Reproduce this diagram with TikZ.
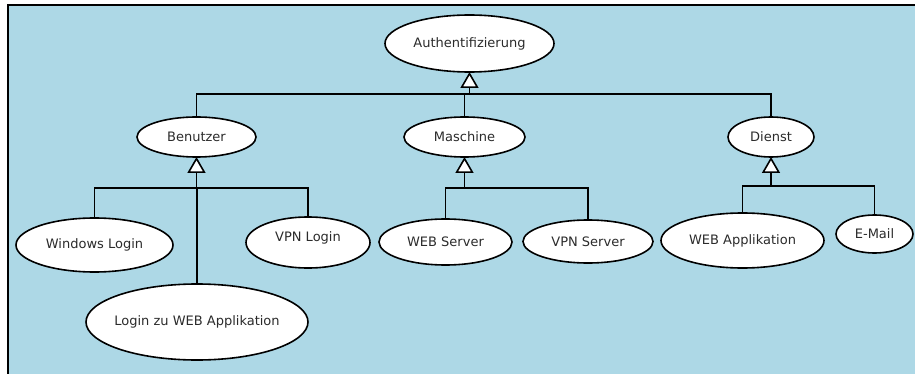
\documentclass[tikz,border=0pt]{standalone}
\usepackage{fontspec}
\setmainfont{DejaVu Sans}
\usetikzlibrary{shapes.geometric,arrows.meta}
\definecolor{canvas}{HTML}{ADD8E6}
\definecolor{ink}{HTML}{2B2B2B}
\tikzset{
  uc/.style={ellipse, draw=black, fill=white, line width=1.6pt, inner sep=0pt, outer sep=0pt,
    text=ink, font=\fontsize{13}{15}\selectfont},
  wire/.style={draw=black, line width=1.6pt},
  gen/.style={wire, -{Triangle[width=18pt, length=16pt, fill=white, line width=1.6pt]}},
}
\begin{document}
\begin{tikzpicture}[x=1pt, y=-1pt]
  % page frame and canvas
  \useasboundingbox (0,0) rectangle (915,374);
  \fill[white] (0,0) rectangle (915,374);
  \fill[canvas] (8,5.5) rectangle (915,374);
  \draw[black, line width=2pt] (8,374) -- (8,5.5) -- (915,5.5);

  % use cases
  \node[uc, minimum width=169pt, minimum height=57pt, inner xsep=-12pt] (auth) at (469.5,43.5) {Authentifizierung};
  \node[uc, minimum width=119pt, minimum height=40pt] (ben)  at (196.5,137)  {Benutzer};
  \node[uc, minimum width=121pt, minimum height=40pt] (mas)  at (464.5,137)  {Maschine};
  \node[uc, minimum width=86pt,  minimum height=40pt] (die)  at (771,137)    {Dienst};
  \node[uc, minimum width=157pt, minimum height=54pt] (win)  at (94.5,245)   {Windows Login};
  \node[uc, minimum width=222pt, minimum height=76pt, inner xsep=-16pt] (lzw) at (197,322) {Login zu WEB Applikation};
  \node[uc, minimum width=124pt, minimum height=51pt, text depth=12pt] (vpnl) at (308,242.5) {VPN Login};
  \node[uc, minimum width=133pt, minimum height=46pt] (webs) at (445.5,242)  {WEB Server};
  \node[uc, minimum width=130pt, minimum height=43pt] (vpns) at (588,241.5)  {VPN Server};
  \node[uc, minimum width=163pt, minimum height=55pt] (weba) at (742.5,240.5){WEB Applikation};
  \node[uc, minimum width=77pt,  minimum height=38pt] (mail) at (874.5,234)  {E-Mail};

  % junction points of the generalisation buses
  \coordinate (jA) at (469.5,94);
  \coordinate (jB) at (196.5,188);
  \coordinate (jM) at (464.5,188);
  \coordinate (jD) at (771,186);

  % Authentifizierung
  \draw[wire] (ben.north) -- (ben.north |- jA) -- (die.north |- jA) -- (die.north);
  \draw[wire] (mas.north) -- (mas.north |- jA);
  \draw[gen] (jA) -- (auth.south);

  % Benutzer
  \draw[wire] (win.north) -- (win.north |- jB) -- (vpnl.north |- jB) -- (vpnl.north);
  \draw[wire] (lzw.north) -- (lzw.north |- jB);
  \draw[gen] (jB) -- (ben.south);

  % Maschine
  \draw[wire] (webs.north) -- (webs.north |- jM) -- (vpns.north |- jM) -- (vpns.north);
  \draw[gen] (jM) -- (mas.south);

  % Dienst
  \draw[wire] (weba.north) -- (weba.north |- jD) -- (mail.north |- jD) -- (mail.north);
  \draw[gen] (jD) -- (die.south);
\end{tikzpicture}
\end{document}
